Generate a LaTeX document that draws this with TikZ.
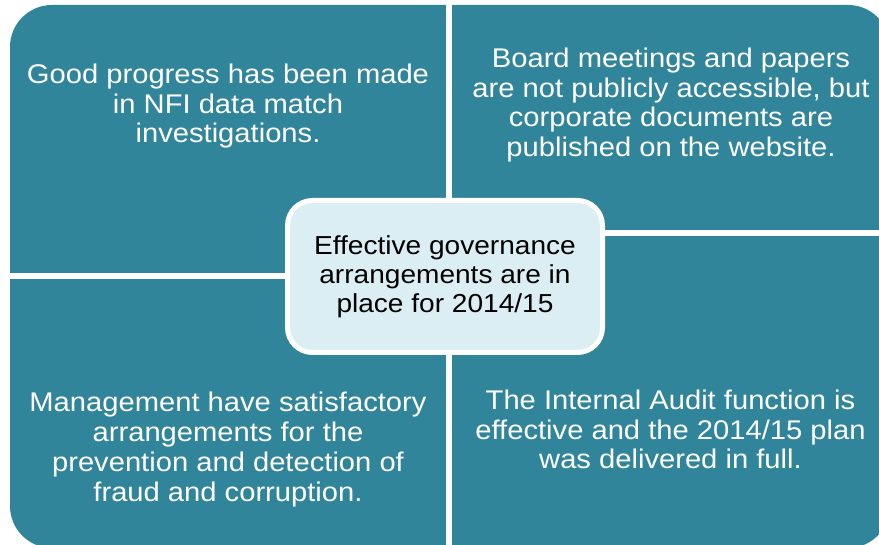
\documentclass[tikz,border=0pt]{standalone}
\usepackage{fontspec}
\setmainfont{Liberation Sans}[FakeStretch=1.08]
\definecolor{govteal}{RGB}{49,133,155}
\definecolor{govpale}{RGB}{219,238,244}

\begin{document}
\begin{tikzpicture}[x=1pt,y=1pt,
   gap/.style={draw=white,line width=6pt},
   point/.style={text=white,align=center,anchor=base,
     font=\fontsize{27}{29.8}\selectfont},
   hub/.style={draw=white,line width=5pt,fill=govpale,rounded corners=25pt,
     minimum width=315pt,minimum height=152pt,inner sep=0pt,
     text=black,align=center,font=\fontsize{26}{29.2}\selectfont}]
   \useasboundingbox (0,0) rectangle (879,545);
   % teal field, clipped at the page edge
   \begin{scope}
    \clip (0,0) rectangle (879,545);
    \fill[govteal,rounded corners=42pt] (10,-3) rectangle (890,540);
   \end{scope}
   % white gaps between the four quarters
   \coordinate (top) at (449,550);
   \coordinate (bot) at (449,-10);
   \coordinate (lgap) at (10,269);
   \coordinate (lmid) at (449,269);
   \coordinate (rgap) at (885,312);
   \coordinate (rmid) at (449,312);
   \draw[gap] (top) -- (bot);
   \draw[gap] (lgap) -- (lmid);
   \draw[gap] (rmid) -- (rgap);
   % the four statements (base = last line)
   \node[point] (nfi) at (228,402.1)
    {Good progress has been made\\in NFI data match\\investigations.};
   \node[point] (board) at (671,388.3)
    {Board meetings and papers\\are not publicly accessible, but\\corporate documents are\\published on the website.};
   \node[point] (fraud) at (228,43.9)
    {Management have satisfactory\\arrangements for the\\prevention and detection of\\fraud and corruption.};
   \node[point] (audit) at (670.5,76.1)
    {The Internal Audit function is\\effective and the 2014/15 plan\\was delivered in full.};
   % centre box
   \node[hub] (core) at (445,268.5)
    {Effective governance\\arrangements are in\\place for 2014/15};
\end{tikzpicture}
\end{document}
